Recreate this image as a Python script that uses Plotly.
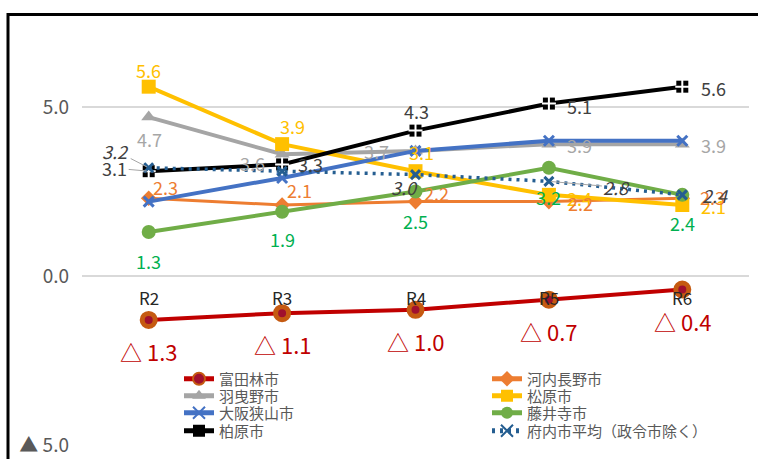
import plotly.graph_objects as go

# ---------------- data ----------------
categories = ["R2", "R3", "R4", "R5", "R6"]
tondabayashi = [-1.3, -1.1, -1.0, -0.7, -0.4]     # 富田林市
kawachinagano = [2.3, 2.1, 2.2, 2.2, 2.3]         # 河内長野市
habikino = [4.7, 3.6, 3.7, 3.9, 3.9]              # 羽曳野市
matsubara = [5.6, 3.9, 3.1, 2.4, 2.1]             # 松原市
osakasayama = [2.2, 2.9, 3.7, 4.0, 4.0]           # 大阪狭山市
fujiidera = [1.3, 1.9, 2.5, 3.2, 2.4]             # 藤井寺市
kashiwara = [3.1, 3.3, 4.3, 5.1, 5.6]             # 柏原市
fu_average = [3.2, 3.1, 3.0, 2.8, 2.4]            # 府内市平均（政令市除く）

ytick_vals = [-5, 0, 5]
ytick_text = ["▲ 5.0", "0.0", "5.0"]

FONT = "Noto Sans CJK JP, Noto Sans, sans-serif"

W, H = 758, 459
L, R, T, B = 82, 9, 14, 14
pw = W - L - R

# legend slots: column x of legend box, row centre y (pixels)
LEG_COL = [179, 487]
LEG_ROW = [379, 396, 413, 431]

fig = go.Figure()
legend_layout = {}

def legend_slot(col, row):
    idx = row * 2 + col + 1
    key = "legend" if idx == 1 else f"legend{idx}"
    legend_layout[key] = dict(
        xref="container", yref="container", x=LEG_COL[col] / W, y=1 - LEG_ROW[row] / H,
        xanchor="left", yanchor="middle", bgcolor="rgba(0,0,0,0)", itemsizing="constant",
        font=dict(family=FONT, size=15, color="#595959"))
    return key

def line_trace(name, y, color, symbol, msize, slot, lw=3.5, dash="solid",
               mline=None, mfill=None):
    fig.add_trace(go.Scatter(
        x=categories, y=y, name=name, mode="lines+markers",
        line=dict(color=color, width=lw, dash=dash),
        marker=dict(symbol=symbol, size=msize, color=mfill or color,
                    line=mline or dict(width=0)),
        legend=legend_slot(*slot), hoverinfo="skip"))

line_trace("富田林市", tondabayashi, "#C00000", "circle", 13, (0, 0),
           lw=4, mfill="#A0102E", mline=dict(color="#C55A11", width=5))
line_trace("河内長野市", kawachinagano, "#ED7D31", "diamond", 12, (1, 0), lw=3)
line_trace("羽曳野市", habikino, "#A5A5A5", "triangle-up", 13, (0, 1), lw=4)
line_trace("松原市", matsubara, "#FFC000", "square", 14, (1, 1), lw=4)
line_trace("大阪狭山市", osakasayama, "#4472C4", "x-thin-open", 10, (0, 2), lw=4,
           mline=dict(color="#4472C4", width=3))
line_trace("藤井寺市", fujiidera, "#70AD47", "circle", 14, (1, 2), lw=4)
line_trace("柏原市", kashiwara, "#000000", "square", 12, (0, 3), lw=4)
fig.add_trace(go.Scatter(
    x=categories, y=kashiwara, mode="markers", showlegend=False, hoverinfo="skip",
    marker=dict(symbol="cross-thin-open", size=10, color="white",
                line=dict(color="white", width=2))))
line_trace("府内市平均（政令市除く）", fu_average, "#255E91", "x-thin-open", 9, (1, 3),
           lw=3.5, dash="3px,5px", mline=dict(color="#255E91", width=3))

# ---------------- data labels ----------------
annotations = []

def labels(values, offsets, color, size=18, italic=False, fmt=None):
    for cat, v, off in zip(categories, values, offsets):
        if off is None:
            continue
        dx, dy, arrow = off
        txt = fmt(v) if fmt else f"{v:.1f}"
        f = dict(family=FONT, size=size, color=color)
        if italic:
            f["style"] = "italic"
        if arrow:
            annotations.append(dict(x=cat, y=v, xref="x", yref="y", text=txt,
                                    showarrow=True, arrowhead=0, arrowwidth=1,
                                    arrowcolor="#A6A6A6", ax=dx, ay=-dy,
                                    standoff=2, font=f))
        else:
            annotations.append(dict(x=cat, y=v, xref="x", yref="y", text=txt,
                                    showarrow=False, xshift=dx, yshift=dy, font=f))

labels(matsubara, [(0, 17, 0), (10, 18, 0), (6, 19, 0), (31, -3, 0), (31, -1, 0)], "#FFC000")
labels(habikino, [(1, -22, 0), (-30, -9, 0), (-39, 0, 0), (31, -1, 0), (31, -1, 0)], "#A6A6A6")
labels(kashiwara, [(-34, 3, 1), (28, 0, 0), (1, 20, 0), (31, -2, 0), (31, -1, 0)], "#404040")
labels(kawachinagano, [(17, 11, 0), (17, 15, 0), (21, 9, 0), (32, -1, 0), (30, 1, 0)], "#ED7D31")
labels(fujiidera, [(0, -29, 0), (0, -27, 0), (0, -30, 0), (0, -29, 0), (0, -28, 0)], "#00B050")
labels(fu_average, [(-33, 17, 1), None, (-11, -12, 0), (68, -6, 1), (33, 0, 0)], "#404040",
       italic=True)
labels(tondabayashi, [(0, -31, 0)] * 5, "#C00000", size=22,
       fmt=lambda v: f"△ {abs(v):.1f}")

# category labels placed on the zero line
for cat in categories:
    annotations.append(dict(x=cat, y=0, xref="x", yref="y", text=cat, showarrow=False,
                            yshift=-22, font=dict(family="Liberation Sans Narrow, " + FONT,
                                                  size=17, color="#262626")))

fig.update_layout(
    width=W, height=H,
    margin=dict(l=L, r=R, t=T, b=B, autoexpand=False),
    paper_bgcolor="white", plot_bgcolor="white",
    font=dict(family=FONT, color="#595959"),
    xaxis=dict(type="category", range=[-0.5, 4.5], visible=False),
    yaxis=dict(range=[-5, 7.75], tickvals=ytick_vals, ticktext=ytick_text,
               showgrid=True, gridcolor="#D9D9D9", gridwidth=1.5, zeroline=False,
               showline=False, ticks="", ticklabelstandoff=12, automargin=False,
               tickfont=dict(family=FONT, size=19, color="#595959")),
    annotations=annotations,
    shapes=[dict(type="rect", xref="paper", yref="paper",
                 x0=(8 - L) / pw, x1=1.2, y0=-0.2, y1=0.999,
                 line=dict(color="black", width=3), fillcolor="rgba(0,0,0,0)")],
    **legend_layout,
)

fig.write_html("out.html")
